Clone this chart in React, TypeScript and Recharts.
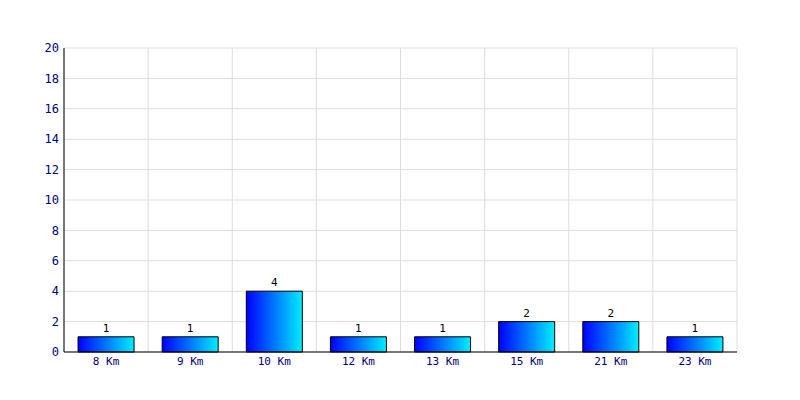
import React from 'react';
import { BarChart, Bar, XAxis, YAxis, CartesianGrid, LabelList } from 'recharts';

const categories = ['8 Km', '9 Km', '10 Km', '12 Km', '13 Km', '15 Km', '21 Km', '23 Km'];
const counts = [1, 1, 4, 1, 1, 2, 2, 1];
const yTicks = [0, 2, 4, 6, 8, 10, 12, 14, 16, 18, 20];
const gridTicks = [0, 1, 2, 3, 4, 5, 6, 7, 8];

const data = categories.map((c, i) => ({ name: c, value: counts[i], pos: i + 0.5 }));

const font = "'DejaVu Sans Mono', 'Liberation Mono', monospace";

export default function App() {
  return (
    <div style={{ position: 'absolute', left: 0, top: 0, width: 800, height: 400, background: '#fff' }}>
      <BarChart
        width={800}
        height={400}
        data={data}
        margin={{ top: 48, right: 63, bottom: 0, left: 24 }}
        barCategoryGap="16.7%"
      >
        <defs>
          <linearGradient id="barGrad" x1="0" y1="0" x2="1" y2="0">
            <stop offset="0%" stopColor="#0000ff" />
            <stop offset="100%" stopColor="#00eeff" />
          </linearGradient>
        </defs>
        <CartesianGrid stroke="#dddddd" xAxisId="grid" horizontal vertical />
        <XAxis
          xAxisId="grid"
          dataKey="pos"
          type="number"
          domain={[0, 8]}
          allowDataOverflow
          ticks={gridTicks}
          hide
          height={0}
        />
        <XAxis
          dataKey="name"
          height={48}
          tickLine={false}
          tickSize={0}
          tickMargin={5}
          axisLine={{ stroke: '#000000' }}
          tick={{ fill: '#000080', fontSize: 11, fontFamily: font }}
          interval={0}
        />
        <YAxis
          width={40}
          domain={[0, 20]}
          ticks={yTicks}
          tickLine={false}
          tickSize={0}
          tickMargin={5}
          axisLine={{ stroke: '#000000' }}
          tick={{ fill: '#000080', fontSize: 12, fontFamily: font }}
          interval={0}
        />
        <Bar dataKey="value" fill="url(#barGrad)" stroke="#000000" strokeWidth={1} isAnimationActive={false}>
          <LabelList dataKey="value" position="top" offset={5} fill="#000000" fontSize={11} fontFamily={font} />
        </Bar>
      </BarChart>
    </div>
  );
}
